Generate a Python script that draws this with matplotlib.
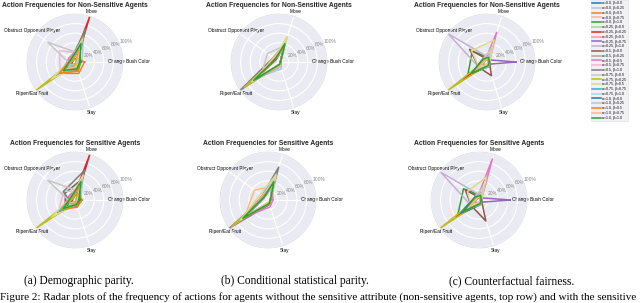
import numpy as np
import matplotlib
matplotlib.use("Agg")
import matplotlib.pyplot as plt

# action categories (order around the radar, starting at 0 deg)
actions = ["Change Bush Color", "Move", "Obstruct Opponent Player", "Ripen/Eat Fruit", "Stay"]

alphas = ["0.0", "0.25", "0.5", "0.75", "1.0"]
betas = ["0.0", "0.25", "0.5", "0.75", "1.0"]
series_labels = [f"α={a}, β={b}" for a in alphas for b in betas]

r_ticks = [0.2, 0.4, 0.6, 0.8, 1.0]
r_tick_labels = ["20%", "40%", "60%", "80%", "100%"]

# values per agent config: [change bush, move, obstruct, ripen/eat, stay]
dp_nonsens = [
    [0.05, 0.35, 0.10, 0.35, 0.15],
    [0.15, 0.55, 0.05, 0.20, 0.05],
    [0.20, 0.08, 0.05, 0.40, 0.25],
    [0.05, 0.30, 0.10, 0.40, 0.15],
    [0.12, 0.28, 0.10, 0.30, 0.20],
    [0.05, 0.35, 0.10, 0.35, 0.15],
    [0.02, 1.00, 0.05, 0.10, 0.05],
    [0.05, 0.30, 0.10, 0.40, 0.15],
    [0.05, 0.20, 0.10, 0.55, 0.10],
    [0.05, 0.35, 0.15, 0.30, 0.15],
    [0.05, 0.45, 0.10, 0.25, 0.10],
    [0.05, 0.30, 0.10, 0.40, 0.15],
    [0.05, 0.25, 0.15, 0.35, 0.10],
    [0.05, 0.20, 0.40, 0.38, 0.05],
    [0.05, 0.72, 0.10, 0.10, 0.05],
    [0.05, 0.20, 0.70, 0.10, 0.05],
    [0.02, 0.55, 0.05, 1.00, 0.05],
    [0.05, 0.50, 0.10, 0.60, 0.10],
    [0.05, 0.30, 0.10, 0.40, 0.10],
    [0.05, 0.35, 0.10, 0.35, 0.10],
    [0.05, 0.40, 0.10, 0.30, 0.10],
    [0.05, 0.45, 0.10, 0.30, 0.10],
    [0.10, 0.30, 0.10, 0.40, 0.20],
    [0.05, 0.40, 0.10, 0.30, 0.10],
    [0.10, 0.40, 0.10, 0.30, 0.15],
]

dp_sens = [
    [0.05, 0.35, 0.10, 0.35, 0.10],
    [0.12, 0.55, 0.05, 0.20, 0.05],
    [0.15, 0.15, 0.05, 0.30, 0.15],
    [0.05, 0.30, 0.10, 0.40, 0.10],
    [0.10, 0.35, 0.10, 0.20, 0.15],
    [0.05, 0.40, 0.10, 0.30, 0.10],
    [0.02, 1.00, 0.05, 0.10, 0.05],
    [0.05, 0.30, 0.10, 0.40, 0.10],
    [0.05, 0.20, 0.10, 0.45, 0.10],
    [0.05, 0.35, 0.15, 0.30, 0.10],
    [0.05, 0.45, 0.25, 0.25, 0.10],
    [0.05, 0.30, 0.10, 0.35, 0.10],
    [0.05, 0.25, 0.15, 0.35, 0.10],
    [0.05, 0.20, 0.30, 0.42, 0.05],
    [0.05, 0.65, 0.30, 0.10, 0.05],
    [0.05, 0.20, 0.70, 0.10, 0.05],
    [0.02, 0.50, 0.05, 1.00, 0.05],
    [0.05, 0.55, 0.10, 0.60, 0.10],
    [0.05, 0.30, 0.10, 0.40, 0.10],
    [0.05, 0.35, 0.10, 0.35, 0.10],
    [0.05, 0.40, 0.10, 0.30, 0.10],
    [0.05, 0.45, 0.10, 0.30, 0.10],
    [0.08, 0.30, 0.10, 0.35, 0.15],
    [0.05, 0.40, 0.10, 0.30, 0.10],
    [0.08, 0.40, 0.10, 0.30, 0.10],
]

csp_nonsens = [
    [0.03, 0.30, 0.10, 0.60, 0.10],
    [0.03, 0.30, 0.08, 0.55, 0.15],
    [0.03, 0.35, 0.10, 0.60, 0.08],
    [0.03, 0.35, 0.10, 0.55, 0.08],
    [0.03, 0.30, 0.10, 0.60, 0.08],
    [0.03, 0.35, 0.10, 0.55, 0.08],
    [0.03, 0.35, 0.08, 0.62, 0.08],
    [0.03, 0.30, 0.10, 0.60, 0.08],
    [0.03, 0.30, 0.10, 0.65, 0.08],
    [0.03, 0.35, 0.12, 0.55, 0.08],
    [0.03, 0.40, 0.10, 0.62, 0.05],
    [0.03, 0.30, 0.10, 0.60, 0.08],
    [0.03, 0.35, 0.10, 0.60, 0.05],
    [0.03, 0.30, 0.12, 0.55, 0.08],
    [0.03, 0.40, 0.15, 1.00, 0.05],
    [0.03, 0.35, 0.30, 0.45, 0.05],
    [0.03, 0.55, 0.10, 0.90, 0.05],
    [0.03, 0.55, 0.12, 0.70, 0.05],
    [0.03, 0.35, 0.10, 0.60, 0.08],
    [0.03, 0.30, 0.10, 0.60, 0.10],
    [0.03, 0.35, 0.10, 0.60, 0.08],
    [0.03, 0.30, 0.10, 0.55, 0.10],
    [0.03, 0.35, 0.10, 0.60, 0.08],
    [0.03, 0.35, 0.15, 0.55, 0.08],
    [0.03, 0.40, 0.10, 0.65, 0.05],
]

csp_sens = [
    [0.05, 0.30, 0.10, 0.65, 0.08],
    [0.05, 0.30, 0.10, 0.60, 0.10],
    [0.05, 0.30, 0.15, 0.60, 0.08],
    [0.05, 0.30, 0.35, 0.60, 0.08],
    [0.05, 0.35, 0.10, 0.65, 0.08],
    [0.05, 0.30, 0.10, 0.60, 0.08],
    [0.05, 0.35, 0.10, 0.60, 0.08],
    [0.05, 0.30, 0.15, 0.60, 0.08],
    [0.05, 0.30, 0.10, 1.00, 0.10],
    [0.05, 0.35, 0.10, 0.60, 0.08],
    [0.05, 0.40, 0.10, 0.60, 0.08],
    [0.05, 0.30, 0.10, 0.60, 0.08],
    [0.10, 0.30, 0.10, 0.60, 0.15],
    [0.05, 0.30, 0.12, 0.60, 0.08],
    [0.05, 0.72, 0.15, 0.60, 0.05],
    [0.05, 0.50, 0.15, 0.55, 0.05],
    [0.05, 0.40, 0.10, 0.95, 0.05],
    [0.05, 0.55, 0.20, 0.70, 0.05],
    [0.05, 0.30, 0.10, 0.60, 0.08],
    [0.05, 0.30, 0.10, 0.60, 0.08],
    [0.05, 0.35, 0.10, 0.60, 0.08],
    [0.05, 0.30, 0.10, 0.60, 0.08],
    [0.05, 0.35, 0.12, 0.60, 0.08],
    [0.05, 0.35, 0.10, 0.60, 0.08],
    [0.05, 0.40, 0.10, 0.65, 0.08],
]

cf_nonsens = [
    [0.05, 0.10, 0.10, 0.40, 0.10],
    [0.05, 0.15, 0.08, 0.35, 0.10],
    [0.05, 0.10, 0.05, 0.40, 0.08],
    [0.05, 0.10, 0.05, 0.35, 0.08],
    [0.05, 0.10, 0.38, 0.50, 0.08],
    [0.05, 0.15, 0.10, 0.30, 0.08],
    [0.05, 0.05, 0.05, 0.70, 0.05],
    [0.05, 0.10, 0.10, 0.40, 0.08],
    [0.60, 0.05, 0.10, 0.30, 0.05],
    [0.05, 0.10, 1.00, 0.20, 0.05],
    [0.05, 0.05, 0.45, 0.20, 0.30],
    [0.05, 0.10, 0.10, 0.35, 0.10],
    [0.05, 0.65, 0.05, 0.10, 0.05],
    [0.05, 0.20, 0.10, 0.25, 0.08],
    [0.05, 0.15, 0.10, 0.35, 0.08],
    [0.05, 0.30, 0.10, 0.20, 0.05],
    [0.03, 0.05, 0.05, 1.00, 0.05],
    [0.05, 0.48, 0.40, 0.20, 0.05],
    [0.05, 0.10, 0.05, 0.40, 0.08],
    [0.05, 0.10, 0.05, 0.35, 0.08],
    [0.05, 0.10, 0.10, 0.40, 0.10],
    [0.05, 0.15, 0.08, 0.35, 0.10],
    [0.05, 0.10, 0.05, 0.40, 0.08],
    [0.05, 0.10, 0.05, 0.35, 0.08],
    [0.05, 0.10, 0.10, 0.40, 0.08],
]

cf_sens = [
    [0.05, 0.10, 0.10, 0.55, 0.10],
    [0.05, 0.15, 0.08, 0.45, 0.10],
    [0.05, 0.10, 0.05, 0.40, 0.08],
    [0.05, 0.10, 0.05, 0.35, 0.08],
    [0.05, 0.10, 0.40, 0.55, 0.08],
    [0.05, 0.15, 0.10, 0.30, 0.08],
    [0.05, 0.05, 0.05, 0.60, 0.05],
    [0.05, 0.10, 0.10, 0.40, 0.08],
    [0.65, 0.05, 0.10, 0.30, 0.05],
    [0.05, 0.10, 0.98, 0.20, 0.05],
    [0.05, 0.05, 0.35, 0.20, 0.46],
    [0.05, 0.10, 0.10, 0.35, 0.10],
    [0.05, 0.90, 0.05, 0.10, 0.05],
    [0.05, 0.20, 0.10, 0.25, 0.08],
    [0.05, 0.15, 0.10, 0.35, 0.08],
    [0.05, 0.30, 0.10, 0.20, 0.05],
    [0.03, 0.05, 0.05, 1.00, 0.05],
    [0.05, 0.50, 0.30, 0.20, 0.05],
    [0.05, 0.10, 0.05, 0.40, 0.08],
    [0.05, 0.10, 0.05, 0.35, 0.08],
    [0.05, 0.10, 0.10, 0.45, 0.10],
    [0.05, 0.15, 0.08, 0.35, 0.10],
    [0.05, 0.10, 0.05, 0.40, 0.08],
    [0.05, 0.10, 0.05, 0.35, 0.08],
    [0.05, 0.10, 0.10, 0.40, 0.08],
]

sub_captions = ["(a) Demographic parity.", "(b) Conditional statistical parity.",
                "(c) Counterfactual fairness."]
fig_caption = ("Figure 2: Radar plots of the frequency of actions for agents without the sensitive "
               "attribute (non-sensitive agents, top row) and with the sensitive")

W, H = 640, 303
R = 48
colors = plt.get_cmap("tab20").colors
angles = np.linspace(0, 2 * np.pi, len(actions), endpoint=False)

plt.rcParams["font.family"] = ["Liberation Sans", "DejaVu Sans"]

fig = plt.figure(figsize=(W / 100, H / 100), dpi=100)


def radar(cx, cy, data, title):
    ax = fig.add_axes([(cx - R) / W, 1 - (cy + R) / H, 2 * R / W, 2 * R / H], polar=True)
    ax.set_facecolor("#EAEAF2")
    for i, vals in enumerate(data):
        v = list(vals) + [vals[0]]
        a = list(angles) + [angles[0]]
        ax.plot(a, v, color=colors[i % 20], lw=1.1, label=series_labels[i])
    ax.set_ylim(0, 1)
    ax.set_xticks(angles)
    ax.set_xticklabels(actions, fontsize=3.4)
    ax.set_yticks(r_ticks)
    ax.set_yticklabels(r_tick_labels, fontsize=3.6, color="#8a8a8a")
    ax.tick_params(axis="x", pad=-6.5)
    ax.grid(color="white", lw=0.8)
    ax.spines["polar"].set_color("#dcdce6")
    ax.spines["polar"].set_linewidth(0.5)
    ax.set_title(title, fontsize=4.85, fontweight="bold", color="#262626", y=1.07, pad=0)
    return ax


top = "Action Frequencies for Non-Sensitive Agents"
bot = "Action Frequencies for Sensitive Agents"
radar(75, 62, dp_nonsens, top)
radar(75, 200, dp_sens, bot)
radar(279, 62, csp_nonsens, top)
radar(268, 200, csp_sens, bot)
ax_c = radar(487, 62, cf_nonsens, top)
radar(479, 200, cf_sens, bot)

handles, labels = ax_c.get_legend_handles_labels()
leg = fig.legend(handles, labels, loc="upper left", bbox_to_anchor=(591 / W, 1.0),
                 fontsize=2.5, handlelength=2.4, labelspacing=0.22, borderpad=0.4,
                 handletextpad=0.5, borderaxespad=0.0, frameon=True, fancybox=False)
leg.get_frame().set_facecolor("#EEEEF3")
leg.get_frame().set_edgecolor("#dcdce6")
leg.get_frame().set_linewidth(0.5)

for x, txt in zip([79, 295, 512], sub_captions):
    fig.text(x / W, 1 - 281 / H, txt, ha="center", va="center",
             family="Liberation Serif", fontsize=8.3)
fig.text(0.0, 1 - 297 / H, fig_caption, ha="left", va="center",
         family="Liberation Serif", fontsize=8.0)

fig.savefig("out.png", dpi=100)
